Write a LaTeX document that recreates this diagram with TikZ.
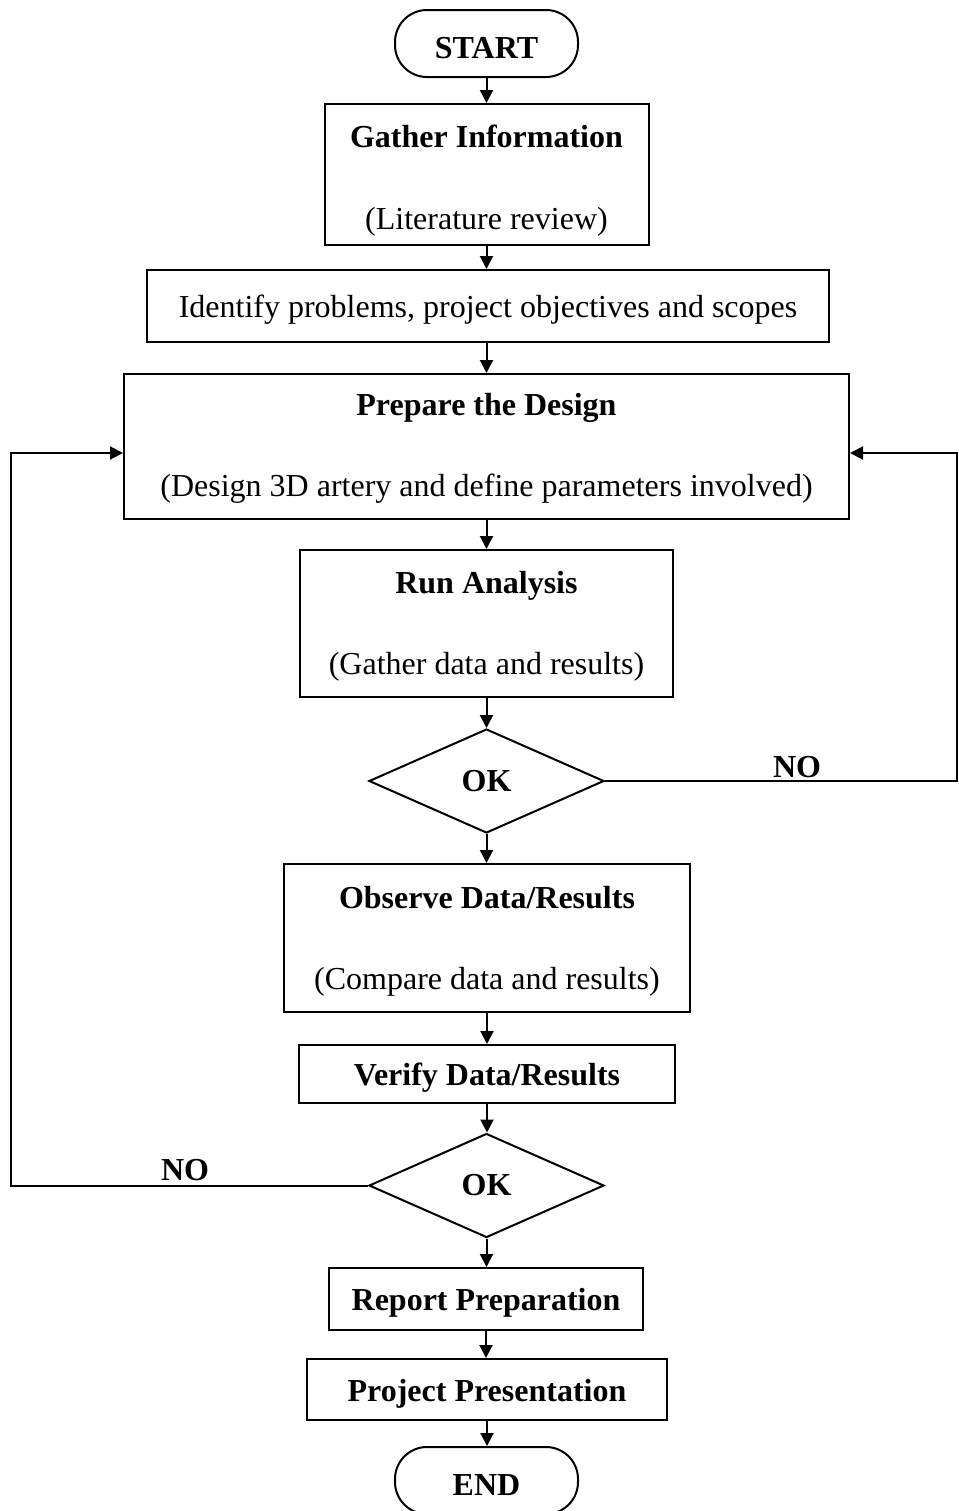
\documentclass[tikz,border=0pt]{standalone}
\usepackage{fontspec}
\setmainfont{Liberation Serif}
\usetikzlibrary{arrows.meta,shapes.geometric}

\tikzset{
  box/.style={draw, line width=1pt, align=center, inner sep=2pt,
    execute at begin node={\rule{0pt}{15pt}}},
  term/.style={box, rounded corners=16pt, minimum width=91.5pt, minimum height=33.5pt},
  decision/.style={draw, diamond, line width=1pt, inner sep=0pt, minimum width=117.5pt, minimum height=52pt},
  arr/.style={-{Triangle[length=6.5pt,width=6.5pt]}, line width=1pt},
}

\begin{document}
\begin{tikzpicture}[x=0.5pt, y=-0.5pt, font=\fontsize{16}{19}\selectfont]
  \useasboundingbox (0,0) rectangle (959,1511);

  % main column
  \node[term] (start) at (486.5,43.5) {\textbf{START}};
  \node[box, minimum width=162pt, minimum height=70.5pt] (gather) at (486.5,174.5)
    {\rule{0pt}{17pt}\textbf{Gather Information}\\[22pt](Literature review)};
  \node[box, minimum width=341pt, minimum height=36pt] (identify) at (488,306)
    {Identify problems, project objectives and scopes};
  \node[box, minimum width=362.5pt, minimum height=72.5pt] (prepare) at (486.5,446.5)
    {\rule{0pt}{13pt}\textbf{Prepare the Design}\\[21.5pt](Design 3D artery and define parameters involved)};
  \node[box, minimum width=186.5pt, minimum height=73.5pt] (run) at (486.5,623.5)
    {\rule{0pt}{14pt}\textbf{Run Analysis}\\[21.5pt](Gather data and results)};
  \node[decision] (ok1) at (486.5,781) {\textbf{OK}};
  \node[box, minimum width=203pt, minimum height=74pt] (observe) at (487,938)
    {\rule{0pt}{14pt}\textbf{Observe Data/Results}\\[21.5pt](Compare data and results)};
  \node[box, minimum width=188pt, minimum height=29pt] (verify) at (487,1074)
    {\textbf{Verify Data/Results}};
  \node[decision] (ok2) at (486.5,1185.5) {\textbf{OK}};
  \node[box, minimum width=157pt, minimum height=31pt] (report) at (486,1299)
    {\textbf{Report Preparation}};
  \node[box, minimum width=180pt, minimum height=30.5pt] (present) at (487,1389.5)
    {\textbf{Project Presentation}};
  \node[term] (end) at (486.5,1480.5) {\textbf{END}};

  \draw[arr] (start) -- (start.south |- gather.north);
  \draw[arr] (gather) -- (gather.south |- identify.north);
  \draw[arr] (identify.south -| gather.south) -- (gather.south |- prepare.north);
  \draw[arr] (prepare) -- (prepare.south |- run.north);
  \draw[arr] (run) -- (ok1);
  \draw[arr] (ok1) -- (ok1.south |- observe.north);
  \draw[arr] (observe) -- (observe.south |- verify.north);
  \draw[arr] (verify) -- (verify.south |- ok2.north);
  \draw[arr] (ok2) -- (ok2.south |- report.north);
  \draw[arr] (report) -- (report.south |- present.north);
  \draw[arr] (present) -- (present.south |- end.north);

  % loops back
  \coordinate (rtop) at (957,453);
  \coordinate (ltop) at (11,453);
  \draw[arr] (ok1.east) -| (rtop) -- (rtop -| prepare.east);
  \draw[arr] (ok2.west) -| (ltop) -- (ltop -| prepare.west);
  \node (no1) at (797,767) {\textbf{NO}};
  \node (no2) at (185,1170) {\textbf{NO}};
\end{tikzpicture}
\end{document}
